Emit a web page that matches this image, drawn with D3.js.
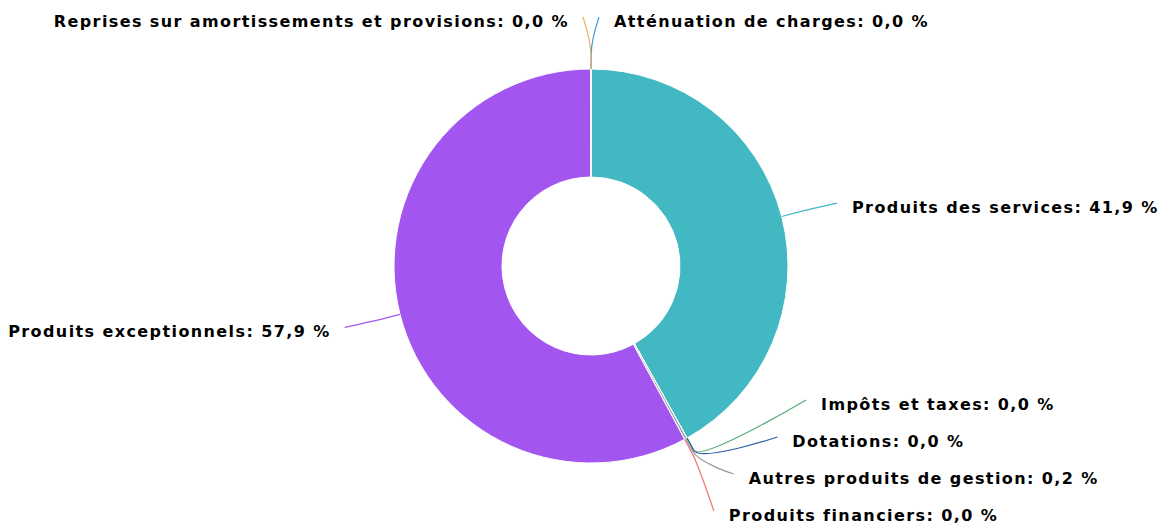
<!DOCTYPE html>
<html>
<head>
<meta charset="utf-8">
<script src="https://cdn.jsdelivr.net/npm/d3@7"></script>
<style>
  html, body { margin: 0; padding: 0; background: #fff; }
  #chart { width: 1164px; height: 526px; }
</style>
</head>
<body>
<div id="chart"></div>
<script>
// Données (ordre des parts, dans le sens horaire depuis le haut)
const categories = [
  "Atténuation de charges",
  "Produits des services",
  "Impôts et taxes",
  "Dotations",
  "Autres produits de gestion",
  "Produits financiers",
  "Produits exceptionnels",
  "Reprises sur amortissements et provisions"
];
const values = [0.02, 41.9, 0.01, 0.01, 0.2, 0.01, 57.9, 0.02];
const colors = ["#3d9be0", "#42b9c2", "#4fae72", "#2a5fa5", "#999999", "#f37676", "#a356ef", "#f0ae62"];

function drawPie() {
    const width = 1164, height = 526;
    const cx = 591, cy = 266;
    const outerR = 197, innerR = 89;
    const labelR = 250;      // rayon où s'accrochent les étiquettes
    const spacing = 37;      // écart vertical minimal entre étiquettes
    const topY = 17, bottomY = 511;

    const svg = d3.select('#chart').append('svg')
        .attr('width', width)
        .attr('height', height);

    const total = d3.sum(values);
    const data = categories.map((c, i) => ({ name: c, value: values[i], color: colors[i] }));

    const pie = d3.pie().sort(null).value(d => d.value);
    const arcs = pie(data);
    const arc = d3.arc().innerRadius(innerR).outerRadius(outerR);

    const g = svg.append('g').attr('transform', `translate(${cx},${cy})`);

    g.selectAll('path.slice')
        .data(arcs)
        .join('path')
        .attr('class', 'slice')
        .attr('d', arc)
        .attr('fill', d => d.data.color)
        .attr('stroke', '#fff')
        .attr('stroke-width', 1)
        .attr('stroke-linejoin', 'round');

    // positions naturelles des étiquettes
    const labels = arcs.map(a => {
        const mid = (a.startAngle + a.endAngle) / 2;
        const naturalY = cy - labelR * Math.cos(mid);
        return {
            arc: a,
            mid,
            left: mid > Math.PI,
            naturalY,
            y: naturalY
        };
    });

    // répartition verticale pour éviter les chevauchements
    [true, false].forEach(side => {
        const group = labels.filter(l => l.left === side).sort((a, b) => a.naturalY - b.naturalY);
        for (let i = 0; i < group.length; i++) {
            group[i].y = Math.max(group[i].naturalY, topY);
            if (i > 0) group[i].y = Math.max(group[i].y, group[i - 1].y + spacing);
        }
        for (let i = group.length - 1; i >= 0; i--) {
            group[i].y = Math.min(group[i].y, i === group.length - 1 ? bottomY : group[i + 1].y - spacing);
        }
    });

    labels.forEach(l => {
        const atEdge = l.y <= topY + 0.5 || l.y >= bottomY - 0.5;
        const yForX = atEdge ? l.naturalY : l.y;
        const dy = Math.max(-labelR, Math.min(labelR, yForX - cy));
        const dx = Math.max(Math.sqrt(labelR * labelR - dy * dy) + 4, 8);
        l.x = cx + (l.left ? -dx : dx);
    });

    const connectors = svg.append('g').attr('class', 'connectors');
    labels.forEach(l => {
        const sx = cx + outerR * Math.sin(l.mid), sy = cy - outerR * Math.cos(l.mid);
        const bx = cx + (outerR + 14) * Math.sin(l.mid), by = cy - (outerR + 14) * Math.cos(l.mid);
        const p = d3.path();
        p.moveTo(l.x, l.y);
        p.bezierCurveTo(l.x, l.y, 2 * bx - sx, 2 * by - sy, bx, by);
        p.lineTo(sx, sy);
        connectors.append('path')
            .attr('d', p.toString())
            .attr('fill', 'none')
            .attr('stroke', l.arc.data.color)
            .attr('stroke-width', 1.2);
    });

    const fmt = v => (v / total * 100).toFixed(1).replace('.', ',');
    const texts = svg.append('g').attr('class', 'labels');
    labels.forEach(l => {
        texts.append('text')
            .attr('x', l.x + (l.left ? -14 : 15))
            .attr('y', l.y + 4)
            .attr('dy', '0.35em')
            .attr('text-anchor', l.left ? 'end' : 'start')
            .style('font-family', '"DejaVu Sans", Verdana, sans-serif')
            .style('font-size', '16px')
            .style('font-weight', 'bold')
            .style('letter-spacing', '1.4px')
            .style('fill', '#000')
            .style('stroke', '#fff')
            .style('stroke-width', '2px')
            .style('paint-order', 'stroke')
            .style('stroke-linejoin', 'round')
            .text(`${l.arc.data.name}: ${fmt(l.arc.data.value)} %`);
    });
}

drawPie();
</script>
</body>
</html>
